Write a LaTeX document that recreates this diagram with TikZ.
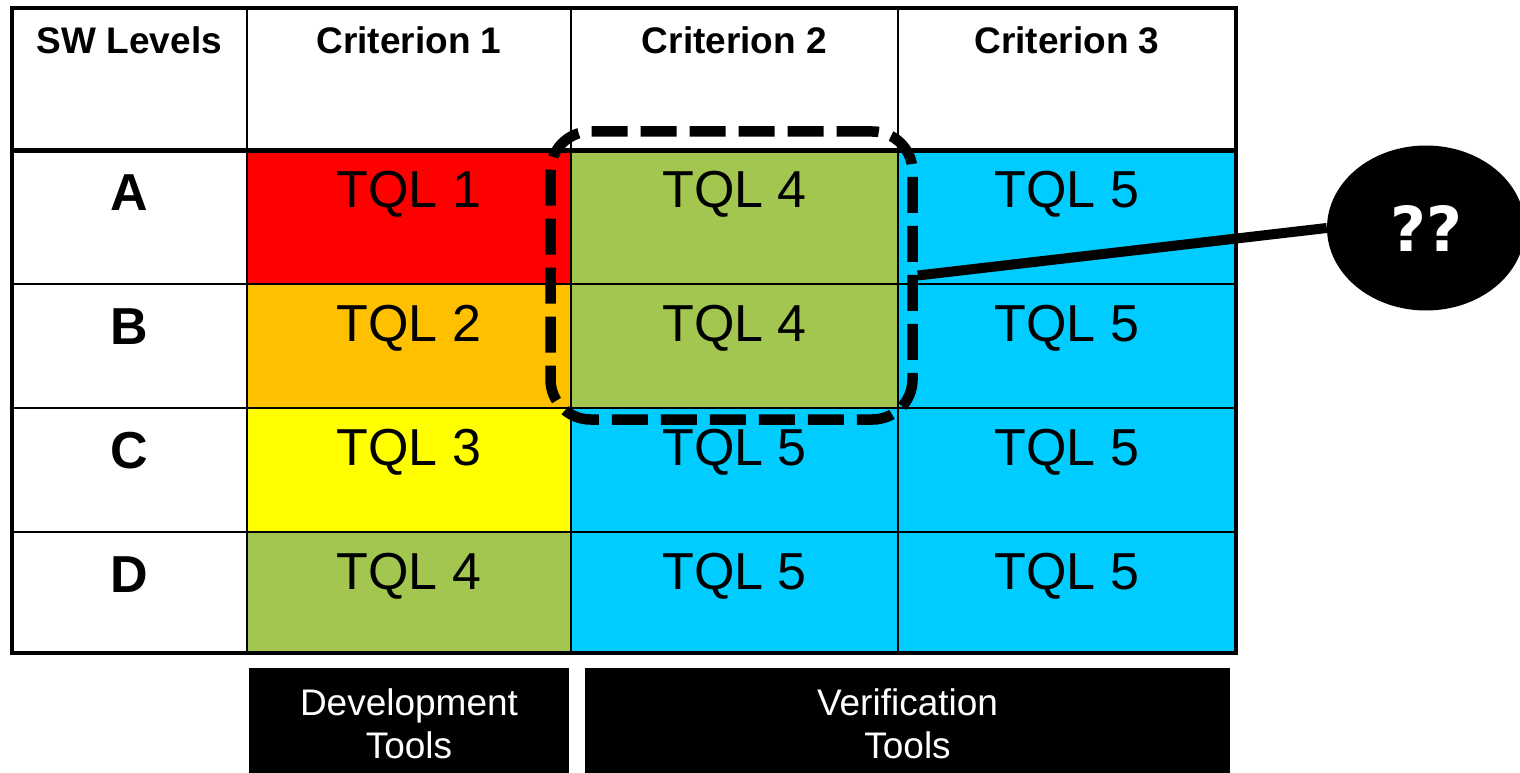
\documentclass[tikz,border=0pt]{standalone}
\usepackage{fontspec}
\setmainfont{Liberation Sans}
\newfontfamily\qqfont{DejaVu Sans}
\usetikzlibrary{positioning,shapes.geometric}

\definecolor{tqlred}{HTML}{FF0000}
\definecolor{tqlorange}{HTML}{FFC000}
\definecolor{tqlyellow}{HTML}{FFFF00}
\definecolor{tqlgreen}{HTML}{A2C64F}
\definecolor{tqlcyan}{HTML}{00CCFF}

\begin{document}
\begin{tikzpicture}[x=1pt,y=-1pt,
  grid/.style={line width=2pt},
  hd/.style={anchor=base,font=\fontsize{37}{44}\selectfont\bfseries},
  lvl/.style={anchor=base,font=\fontsize{52}{60}\selectfont\bfseries},
  tql/.style={anchor=base,font=\fontsize{52}{60}\selectfont},
  tools/.style={fill=black,text=white,align=center,inner sep=0pt,font=\fontsize{37}{43}\selectfont},
  selbox/.style={draw,line width=10.5pt,dash pattern=on 36pt off 13pt,rounded corners=40pt,inner sep=0pt}]
\useasboundingbox (0,0) rectangle (1520,773);

\fill[tqlred] (247,150) rectangle (571,284);
\fill[tqlorange] (247,284) rectangle (571,408);
\fill[tqlyellow] (247,408) rectangle (571,532);
\fill[tqlgreen] (247,532) rectangle (571,653);
\fill[tqlgreen] (571,150) rectangle (898,408);
\fill[tqlcyan] (571,408) rectangle (898,653);
\fill[tqlcyan] (898,150) rectangle (1236,653);

\draw[grid] (247,8) -- (247,653);
\draw[grid] (571,8) -- (571,653);
\draw[grid] (898,8) -- (898,653);
\draw[grid] (12,284) -- (1236,284);
\draw[grid] (12,408) -- (1236,408);
\draw[grid] (12,532) -- (1236,532);
\draw[line width=5pt] (12,150) -- (1236,150);
\draw[line width=4.5pt] (12,8) rectangle (1236,653);

\node[hd] (sw) at (129.5,54) {SW Levels};
\node[hd] (crit1) at (409,54) {Criterion 1};
\node[hd] (crit2) at (734.5,54) {Criterion 2};
\node[hd] (crit3) at (1067,54) {Criterion 3};

\node[lvl] (lvlA) at (129.5,210) {A};
\node[lvl] (lvlB) at (129.5,344) {B};
\node[lvl] (lvlC) at (129.5,468) {C};
\node[lvl] (lvlD) at (129.5,592) {D};

\node[tql] (a1) at (409,207) {TQL 1};
\node[tql] (b1) at (409,341) {TQL 2};
\node[tql] (c1) at (409,465) {TQL 3};
\node[tql] (d1) at (409,589) {TQL 4};
\node[tql] (a2) at (734.5,207) {TQL 4};
\node[tql] (b2) at (734.5,341) {TQL 4};
\node[tql] (c2) at (734.5,465) {TQL 5};
\node[tql] (d2) at (734.5,589) {TQL 5};
\node[tql] (a3) at (1067,207) {TQL 5};
\node[tql] (b3) at (1067,341) {TQL 5};
\node[tql] (c3) at (1067,465) {TQL 5};
\node[tql] (d3) at (1067,589) {TQL 5};

\node[selbox,minimum width=362pt,minimum height=288pt] (sel) at (731.5,275.5) {};
\node[ellipse,fill=black,text=white,inner sep=0pt,minimum width=198pt,minimum height=165pt,
  font=\qqfont\bfseries\fontsize{62}{70}\selectfont] (qq) at (1426,228) {??};
\draw[line width=10pt] (sel.east) -- (qq.west);

% boxes run past the bottom edge, the page cuts them
\node[tools,minimum width=320pt,minimum height=111pt] (dev) at (409,723.5) {Development\\Tools};
\node[tools,minimum width=645pt,minimum height=111pt] (ver) at (907.5,723.5) {Verification\\Tools};
\end{tikzpicture}
\end{document}
